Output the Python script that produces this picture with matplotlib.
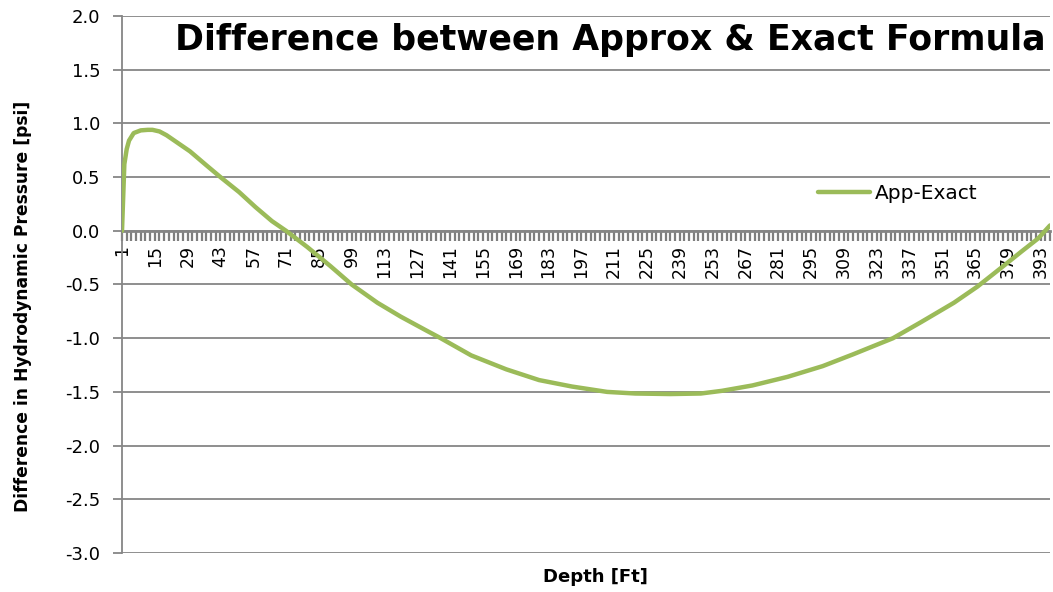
import numpy as np
import matplotlib
matplotlib.use("Agg")
import matplotlib.pyplot as plt
from matplotlib.ticker import MultipleLocator, FormatStrFormatter

# depth categories shown on the x axis (1 .. 397)
n_depth = 397
tick_step = 14

# values (depth category, App-Exact in psi)
depth = [1, 2, 3, 4, 6, 9, 12, 14, 17, 20, 23, 26, 30, 37, 43, 51, 58, 65, 71,
         80, 90, 99, 110, 120, 131, 137, 150, 165, 179, 193, 208, 220, 235,
         248, 257, 270, 285, 300, 313, 330, 342, 356, 366, 377, 385, 392, 397]
app_exact = [0.00, 0.62, 0.76, 0.84, 0.91, 0.935, 0.94, 0.94, 0.925, 0.89,
             0.845, 0.80, 0.74, 0.61, 0.50, 0.36, 0.22, 0.09, 0.00,
             -0.15, -0.33, -0.50, -0.67, -0.80, -0.93, -1.00, -1.16, -1.29,
             -1.39, -1.45, -1.50, -1.515, -1.52, -1.515, -1.49, -1.44, -1.36,
             -1.26, -1.15, -1.00, -0.85, -0.67, -0.52, -0.33, -0.19, -0.07,
             0.05]

W, H = 1053, 592
fig = plt.figure(figsize=(W / 100, H / 100), dpi=100)
ax = fig.add_axes([122 / W, 1 - 553 / H, (1050 - 122) / W, (553 - 16) / H])

grid_c = "#868686"
ax.plot(depth, app_exact, color="#9BBB59", lw=3.2, solid_joinstyle="round",
        solid_capstyle="round", label="App-Exact", zorder=3)

ax.set_xlim(1, n_depth)
ax.set_ylim(-3.0, 2.0)

# y axis
ax.yaxis.set_major_locator(MultipleLocator(0.5))
ax.yaxis.set_major_formatter(FormatStrFormatter("%.1f"))
ax.grid(axis="y", color=grid_c, lw=1.3)
ax.set_axisbelow(True)
ax.tick_params(axis="y", direction="out", length=6.5, width=1.3, color=grid_c,
               labelsize=13, pad=9)

# x axis crossing at zero
ax.spines["bottom"].set_position(("data", 0))
ax.spines["bottom"].set_color(grid_c)
ax.spines["bottom"].set_linewidth(2)
ax.spines["left"].set_color(grid_c)
ax.spines["left"].set_linewidth(1.3)
ax.spines["top"].set_visible(False)
ax.spines["right"].set_visible(False)

labels = list(range(1, n_depth + 1, tick_step))
ax.set_xticks(labels)
ax.set_xticklabels([str(v) for v in labels], rotation=90, fontsize=12.5)
ax.set_xticks(list(range(1, n_depth + 1, 2)), minor=True)
ax.tick_params(axis="x", which="both", direction="out", length=7, width=1.6,
               color="#7f7f7f", pad=3)

ax.set_xlabel("Depth [Ft]", fontsize=13, fontweight="bold")
ax.xaxis.set_label_coords(0.51, -0.028)
ax.set_ylabel("Difference in Hydrodynamic Pressure [psi]", fontsize=12.3,
              fontweight="bold")
ax.yaxis.set_label_coords(-0.097, 0.46)

ax.text(0.995, 0.955, "Difference between Approx & Exact Formula",
        transform=ax.transAxes, ha="right", va="center", fontsize=25,
        fontweight="bold")

ax.legend(loc="center left", bbox_to_anchor=(0.73, 0.67), frameon=False,
          fontsize=14.5, handlelength=2.6, handletextpad=0.25)

fig.savefig("out.png", dpi=100)
